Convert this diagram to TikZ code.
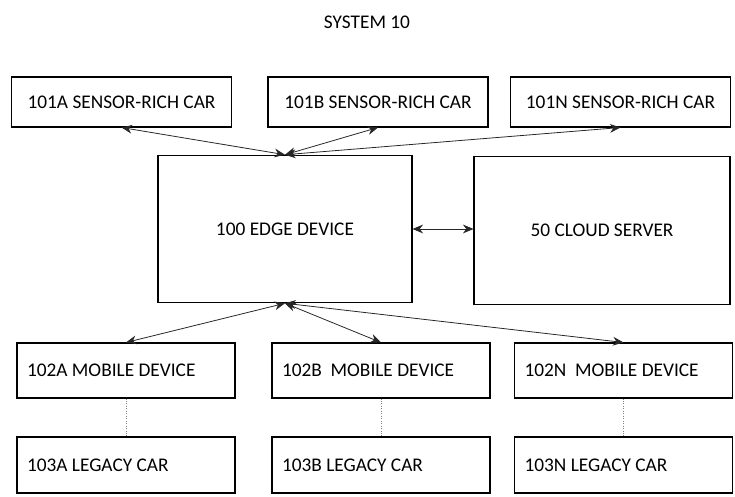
\documentclass[tikz,border=0pt]{standalone}
\usepackage{fontspec}
\setmainfont{Carlito}
\usepackage{tikz}
\usetikzlibrary{arrows.meta, positioning, calc}

\begin{document}
\begin{tikzpicture}[
    font=\fontsize{11}{13}\selectfont,
    topcar/.style={draw, line width=0.6pt, minimum width=4.4cm, minimum height=1cm, align=center},
    bigbox/.style={draw, line width=0.6pt, minimum height=2.95cm, align=center},
    bottombox/.style={draw, line width=0.6pt, minimum width=4.36cm, text width=3.96cm, inner xsep=0.2cm, align=flush left},
    arrow/.style={{Stealth[length=6pt,width=5pt]}-{Stealth[length=6pt,width=5pt]}, line width=0.45pt, black!85},
    link/.style={densely dotted, line width=0.4pt, black!50}
]
    \useasboundingbox (0,0) rectangle (14.7,9.94);

    % Title
    \node (title) at (7.34, 9.5) {SYSTEM 10};

    % Sensor-rich cars
    \node[topcar] (carA) at (2.43, 7.9) {101A SENSOR-RICH CAR};
    \node[topcar] (carB) at (7.56, 7.9) {101B SENSOR-RICH CAR};
    \node[topcar] (carN) at (12.41, 7.9) {101N SENSOR-RICH CAR};

    % Edge and cloud
    \node[bigbox, minimum width=5.08cm] (edge) at (5.7, 5.36) {100 EDGE DEVICE};
    \node[bigbox, minimum width=5.12cm] (cloud) at (12.04, 5.33) {50 CLOUD SERVER};

    % Mobile devices
    \node[bottombox, minimum height=1.1cm] (mobA) at (2.52, 2.53) {102A MOBILE DEVICE};
    \node[bottombox, minimum height=1.1cm] (mobB) at (7.62, 2.53) {102B\ \ MOBILE DEVICE};
    \node[bottombox, minimum height=1.1cm] (mobN) at (12.47, 2.53) {102N\ \ MOBILE DEVICE};

    % Legacy cars
    \node[bottombox, minimum height=1.12cm] (legA) at (2.52, 0.64) {103A LEGACY CAR};
    \node[bottombox, minimum height=1.12cm] (legB) at (7.62, 0.64) {103B LEGACY CAR};
    \node[bottombox, minimum height=1.12cm] (legN) at (12.47, 0.64) {103N LEGACY CAR};

    % Links to the edge device
    \draw[arrow] (carA.south) -- (edge.north);
    \draw[arrow] (carB.south) -- (edge.north);
    \draw[arrow] (carN.south) -- (edge.north);
    \draw[arrow] (edge.east) -- (edge.east -| cloud.west);
    \draw[arrow] (edge.south) -- (mobA.north);
    \draw[arrow] (edge.south) -- (mobB.north);
    \draw[arrow] (edge.south) -- (mobN.north);

    % Mobile device to legacy car
    \draw[link] (mobA.south) -- (legA.north);
    \draw[link] (mobB.south) -- (legB.north);
    \draw[link] (mobN.south) -- (legN.north);
\end{tikzpicture}
\end{document}
